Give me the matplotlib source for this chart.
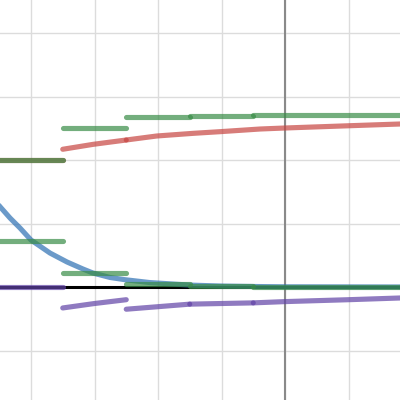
import matplotlib
matplotlib.use("Agg")
import matplotlib.pyplot as plt
import numpy as np

# ---- data ----
step_edges = [-5.5, -4.5, -3.5, -2.5, -1.5, -0.5, 2.5]
green_top = [1.72, 2.0, 2.50, 2.67, 2.69, 2.71]
green_bottom = [1.0, 0.72, 0.22, 0.05, 0.016, 0.0]

blue_x = [-4.6, -4.488, -4.331, -4.173, -4.0, -3.701, -3.433, -3.181, -3.024,
          -2.756, -2.52, -2.13, -1.5, -1.0, -0.5, 0.0, 1.9]
blue_y = [1.40, 1.265, 1.087, 0.929, 0.740, 0.535, 0.394, 0.283, 0.220,
          0.150, 0.115, 0.07, 0.03, 0.015, 0.008, 0.003, 0.0]

red_segments = [
    ([-5.5, -4.5], [1.0, 1.0]),
    ([-4.5, -3.5], [2.0, 2.0]),
    ([-3.5, -3.019, -2.5], [2.169, 2.247, 2.315]),
    ([-2.5, -2.020, -1.444, -1.024, -0.394, 0.0, 1.024, 1.9],
     [2.315, 2.378, 2.420, 2.446, 2.488, 2.504, 2.540, 2.570]),
]
purple_segments = [
    ([-4.6, -3.5], [0.0, 0.0]),
    ([-3.5, -3.0, -2.5], [-0.33, -0.26, -0.20]),
    ([-2.5, -2.0, -1.5], [-0.35, -0.31, -0.27]),
    ([-1.5, -0.5], [-0.27, -0.25]),
    ([-0.5, 0.0, 1.0, 1.9], [-0.25, -0.23, -0.20, -0.17]),
]
zero_x = [-4.6, 2.0]
zero_y = [0.0, 0.0]

RED, BLUE, GREEN, PURPLE = "#c74440", "#2d70b3", "#388c46", "#6042a6"
LW = 3.7
A = 0.7

fig = plt.figure(figsize=(4, 4), dpi=100)
ax = fig.add_axes([0, 0, 1, 1])
ax.set_xlim(-285 / 63.5, 115 / 63.5)
ax.set_ylim(-113 / 63.5, 287 / 63.5)
ax.axis("off")

for g in range(-5, 3):
    ax.axvline(g, color="#dcdcdc", lw=1.0, zorder=0)
for g in range(-2, 5):
    ax.axhline(g, color="#dcdcdc", lw=1.0, zorder=0)
ax.axvline(0, color="#8a8a8a", lw=1.5, zorder=1)

ax.plot(zero_x, zero_y, color="black", lw=2.2, zorder=2, solid_capstyle="round")
ax.plot(blue_x, blue_y, color=BLUE, lw=LW, alpha=A, zorder=3,
        solid_capstyle="round", solid_joinstyle="round")

for xs, ys in red_segments:
    ax.plot(xs, ys, color=RED, lw=LW, alpha=A, zorder=4,
            solid_capstyle="round", solid_joinstyle="round")

for i in range(len(green_top)):
    x0, x1 = step_edges[i], step_edges[i + 1]
    ax.plot([x0, x1], [green_top[i]] * 2, color=GREEN, lw=LW, alpha=A, zorder=5, solid_capstyle="round")
    ax.plot([x0, x1], [green_bottom[i]] * 2, color=GREEN, lw=LW, alpha=A, zorder=5, solid_capstyle="round")

for xs, ys in purple_segments:
    ax.plot(xs, ys, color=PURPLE, lw=LW, alpha=A, zorder=6,
            solid_capstyle="round", solid_joinstyle="round")

fig.savefig("out.png", dpi=100)
